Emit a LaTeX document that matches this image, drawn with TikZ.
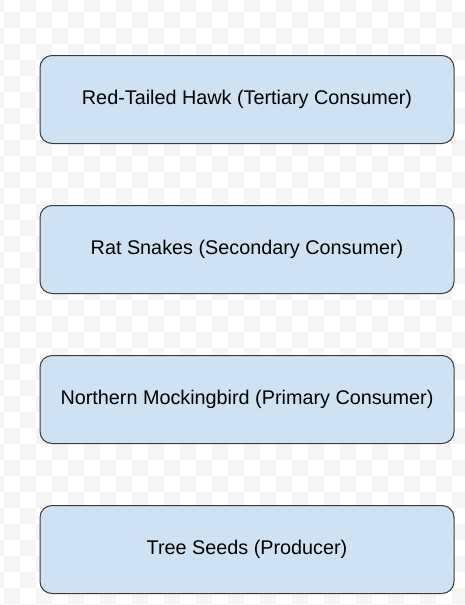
\documentclass[tikz,border=0pt]{standalone}
\usepackage{fontspec}
\setmainfont{Liberation Sans}
\definecolor{boxfill}{HTML}{CFE2F3}
\definecolor{boxline}{HTML}{3C3C3C}
\definecolor{checker}{HTML}{F5F5F5}
\tikzset{
    level/.style={draw=boxline, line width=1pt, fill=boxfill, rounded corners=12pt,
        minimum width=414pt, minimum height=88pt, inner sep=0pt,
        font=\fontsize{19.8pt}{23pt}\selectfont, text=black}
}
\begin{document}
\begin{tikzpicture}[x=1pt,y=-1pt]
        \useasboundingbox (0,0) rectangle (465,605);
        \fill[white] (0,0) rectangle (465,605);
        \foreach \i in {0,...,29} {
            \foreach \j in {0,...,38} {
                \pgfmathtruncatemacro{\k}{mod(\i+\j,2)}
                \ifnum\k=0
                    \fill[checker] (4+16*\i-16,12+16*\j-16) rectangle ++(16,16);
                \fi
            }
        }
        
        \node (hawk) [level] at (247,99.5) {Red-Tailed Hawk (Tertiary Consumer)};
        \node (snakes) [level] at (247,249.5) {Rat Snakes (Secondary Consumer)};
        \node (mockingbird) [level] at (247,399.5) {Northern Mockingbird (Primary Consumer)};
        \node (seeds) [level] at (247,549.5) {Tree Seeds (Producer)};
    \end{tikzpicture}
\end{document}
